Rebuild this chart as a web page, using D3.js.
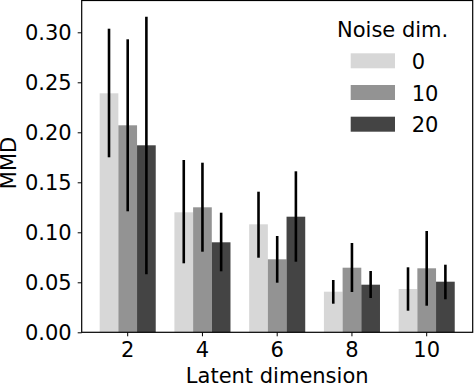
<!DOCTYPE html>
<html>
<head>
<meta charset="utf-8">
<script src="https://cdn.jsdelivr.net/npm/d3@7"></script>
<style>
  body { margin: 0; background: #fff; }
  text { font-family: "DejaVu Sans", sans-serif; }
</style>
</head>
<body>
<div id="chart"></div>
<script>
// Data
const categories = ["2", "4", "6", "8", "10"];
const series = ["0", "10", "20"];
const colors = ["#d7d7d7", "#939393", "#444444"];
// mean values per series, in category order
const means = [
  [0.239, 0.120, 0.108, 0.0406, 0.0433],
  [0.207, 0.125, 0.073, 0.0646, 0.064],
  [0.187, 0.090, 0.1156, 0.0476, 0.0506]
];
const errLow = [
  [0.175, 0.069, 0.0746, 0.0286, 0.0216],
  [0.121, 0.0806, 0.0496, 0.0403, 0.0266],
  [0.058, 0.061, 0.0706, 0.0343, 0.033]
];
const errHigh = [
  [0.3036, 0.1723, 0.1406, 0.0523, 0.065],
  [0.293, 0.1696, 0.0963, 0.0893, 0.1013],
  [0.3156, 0.1196, 0.161, 0.0613, 0.0676]
];
const yTicks = [0, 0.05, 0.10, 0.15, 0.20, 0.25, 0.30];

const W = 474, H = 386;
const plot = {left: 81.7, right: 472.7, top: 0, bottom: 332.3};
const fontSize = 21;

const svg = d3.select("#chart")
    .append("svg")
    .attr("width", W)
    .attr("height", H);

const x = d3.scaleBand()
    .domain(categories)
    .range([plot.left, plot.right])
    .paddingInner(0.25)
    .paddingOuter(0.2404);

const xs = d3.scaleBand()
    .domain(series)
    .range([0, x.bandwidth()]);

const y = d3.scaleLinear()
    .domain([0, 0.3323])
    .range([plot.bottom, plot.top]);

// bars
series.forEach((s, si) => {
    const g = svg.append("g");
    g.selectAll("rect")
        .data(categories)
        .join("rect")
        .attr("x", c => x(c) + xs(s))
        .attr("y", (c, i) => y(means[si][i]))
        .attr("width", xs.bandwidth())
        .attr("height", (c, i) => y(0) - y(means[si][i]))
        .attr("fill", colors[si]);

    g.selectAll("line")
        .data(categories)
        .join("line")
        .attr("x1", c => x(c) + xs(s) + xs.bandwidth() / 2)
        .attr("x2", c => x(c) + xs(s) + xs.bandwidth() / 2)
        .attr("y1", (c, i) => y(errLow[si][i]))
        .attr("y2", (c, i) => y(errHigh[si][i]))
        .attr("stroke", "#000")
        .attr("stroke-width", 2.6);
});

// axes
const xAxis = svg.append("g")
    .attr("transform", `translate(0,${plot.bottom})`)
    .call(d3.axisBottom(x).tickSizeOuter(0).tickSize(4).tickPadding(5));

const yAxis = svg.append("g")
    .attr("transform", `translate(${plot.left},0)`)
    .call(d3.axisLeft(y).tickValues(yTicks).tickFormat(d3.format(".2f"))
        .tickSizeOuter(0).tickSize(4).tickPadding(6));

[xAxis, yAxis].forEach(a => {
    a.select(".domain").remove();
    a.selectAll("text")
        .attr("font-size", fontSize)
        .attr("font-family", "DejaVu Sans")
        .attr("fill", "#000");
    a.selectAll("line").attr("stroke", "#000").attr("stroke-width", 1);
});
yAxis.selectAll("text").attr("dy", "0.36em");
xAxis.selectAll("text").attr("dy", "0.76em");

// frame
svg.append("rect")
    .attr("x", plot.left)
    .attr("y", plot.top + 0.5)
    .attr("width", plot.right - plot.left)
    .attr("height", plot.bottom - plot.top - 0.5)
    .attr("fill", "none")
    .attr("stroke", "#000")
    .attr("stroke-width", 1.2);

// axis labels
svg.append("text")
    .attr("x", (plot.left + plot.right) / 2)
    .attr("y", 383.3)
    .attr("text-anchor", "middle")
    .attr("font-size", fontSize)
    .text("Latent dimension");

svg.append("text")
    .attr("transform", "rotate(-90)")
    .attr("x", -163)
    .attr("y", 15.5)
    .attr("text-anchor", "middle")
    .attr("font-size", fontSize)
    .text("MMD");

// legend
const legend = svg.append("g");
legend.append("text")
    .attr("x", 337)
    .attr("y", 37.3)
    .attr("font-size", fontSize)
    .text("Noise dim.");

series.forEach((s, i) => {
    const item = legend.append("g")
        .attr("transform", `translate(350.7, ${53.3 + i * 31.7})`);
    item.append("rect")
        .attr("width", 44.3)
        .attr("height", 15)
        .attr("fill", colors[i]);
    item.append("text")
        .attr("x", 61)
        .attr("y", 15.7)
        .attr("font-size", fontSize)
        .text(s);
});
</script>
</body>
</html>
